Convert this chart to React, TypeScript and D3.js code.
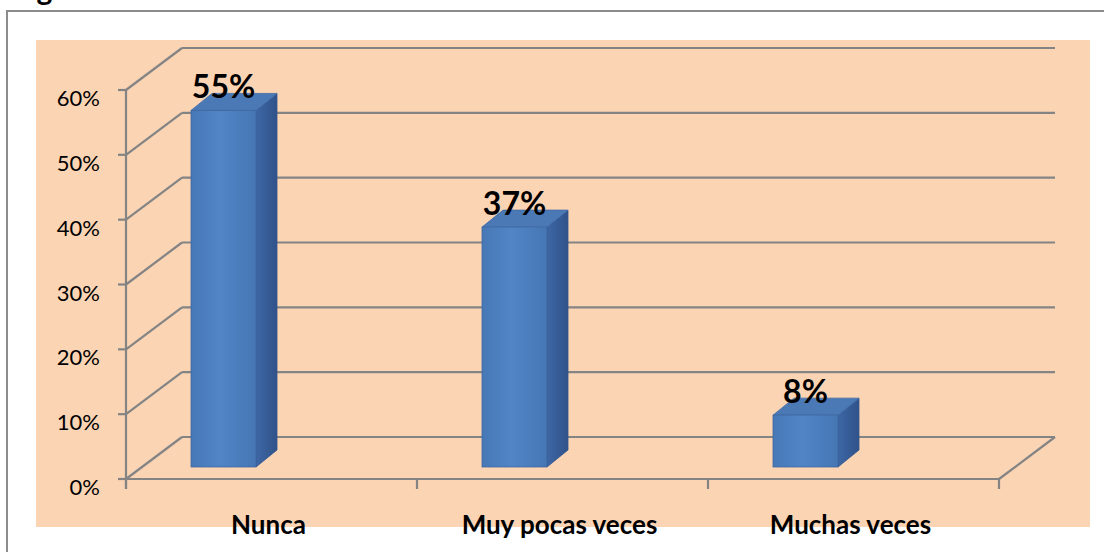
import React from "react";
import * as d3 from "d3";

// chart data
const categories = ["Nunca", "Muy pocas veces", "Muchas veces"];
const values = [0.55, 0.37, 0.08];
const valueLabels = ["55%", "37%", "8%"];
const yTicks = [0, 0.1, 0.2, 0.3, 0.4, 0.5, 0.6];
const yTickLabels = ["0%", "10%", "20%", "30%", "40%", "50%", "60%"];

const W = 1104;
const H = 552;
// oblique depth of the walls
const DX = 56;
const DY = 42;
// bar placement inside its category (front plane shift + own depth)
const BAR_FRONT_DY = 12;
const BAR_DX = 21;
const BAR_DY = 17;
const BAR_FRAC = 0.2234;

const font = "Lato, 'Open Sans', sans-serif";
const gridColor = "#848484";

const App = () => {
  const x = d3.scaleBand<string>().domain(categories).range([126, 999]).padding(0);
  const y = d3.scaleLinear().domain([0, 0.6]).range([479, 90]);
  const step = x.step();
  const x0 = x.range()[0];
  const x1 = x.range()[1];
  const y0 = y(0);

  return (
    <svg
      width={W}
      height={H}
      style={{ position: "absolute", left: 0, top: 0, background: "#fff" }}
    >
      <defs>
        <linearGradient id="front" x1="0" x2="1" y1="0" y2="0">
          <stop offset="0" stopColor="#4878B6" />
          <stop offset="0.45" stopColor="#5085C6" />
          <stop offset="1" stopColor="#4676B4" />
        </linearGradient>
        <linearGradient id="side" x1="0" x2="1" y1="0" y2="0">
          <stop offset="0" stopColor="#3D67A4" />
          <stop offset="1" stopColor="#30528A" />
        </linearGradient>
      </defs>

      {/* caption cut off by the top edge, only the descender shows */}
      <text x={12} y={0} fontFamily={font} fontWeight="bold" fontSize={30} fill="#000">
        Figura
      </text>

      {/* outer frame */}
      <rect x={7} y={11} width={1120} height={570} fill="none" stroke="#8c8c8c" strokeWidth={2} />

      {/* plot background */}
      <rect x={36} y={40} width={1054} height={487} fill="#FBD4B4" />

      {/* back wall gridlines */}
      {yTicks.map((t) => (
        <line
          key={"g" + t}
          x1={x0 + DX}
          x2={x1 + DX}
          y1={y(t) - DY}
          y2={y(t) - DY}
          stroke={gridColor}
          strokeWidth={2.2}
        />
      ))}

      {/* side wall diagonals */}
      {yTicks.map((t) => (
        <line
          key={"d" + t}
          x1={x0}
          x2={x0 + DX}
          y1={y(t)}
          y2={y(t) - DY}
          stroke={gridColor}
          strokeWidth={2.2}
        />
      ))}

      {/* floor */}
      <line x1={x0} x2={x1} y1={y0} y2={y0} stroke={gridColor} strokeWidth={2.2} />
      <line x1={x1} x2={x1 + DX} y1={y0} y2={y0 - DY} stroke={gridColor} strokeWidth={2.2} />

      {/* value axis */}
      <line x1={x0} x2={x0} y1={y(0.6)} y2={y0 + 10} stroke={gridColor} strokeWidth={2.2} />
      {yTicks.map((t) => (
        <line key={"t" + t} x1={x0 - 8} x2={x0} y1={y(t)} y2={y(t)} stroke={gridColor} strokeWidth={2.2} />
      ))}
      {yTicks.map((t, i) => (
        <text
          key={"l" + t}
          x={100}
          y={y(t) + 16}
          textAnchor="end"
          fontFamily={font}
          fontSize={22}
          fill="#000"
        >
          {yTickLabels[i]}
        </text>
      ))}

      {/* category ticks */}
      {categories.concat(["end"]).map((c, i) => (
        <line
          key={"ct" + i}
          x1={x0 + i * step}
          x2={x0 + i * step}
          y1={y0}
          y2={y0 + 10}
          stroke={gridColor}
          strokeWidth={2.2}
        />
      ))}

      {/* bars */}
      {categories.map((c, i) => {
        const bx = (x(c) as number) + BAR_FRAC * step;
        const bw = BAR_FRAC * step;
        const top = y(values[i]) - BAR_FRONT_DY;
        const bot = y0 - BAR_FRONT_DY;
        const side = `M${bx + bw},${top} L${bx + bw + BAR_DX},${top - BAR_DY} L${bx + bw + BAR_DX},${bot - BAR_DY} L${bx + bw},${bot} Z`;
        const lid = `M${bx},${top} L${bx + BAR_DX},${top - BAR_DY} L${bx + bw + BAR_DX},${top - BAR_DY} L${bx + bw},${top} Z`;
        return (
          <g key={c}>
            <path d={side} fill="url(#side)" stroke="#34588F" strokeWidth={0.8} />
            <path d={lid} fill="#4B79B6" stroke="#3F6AA6" strokeWidth={0.8} />
            <rect x={bx} y={top} width={bw} height={bot - top} fill="url(#front)" stroke="#3E67A1" strokeWidth={0.8} />
            <text
              x={bx + bw / 2}
              y={top - 12}
              textAnchor="middle"
              fontFamily={font}
              fontWeight="bold"
              fontSize={32}
              fill="#000"
            >
              {valueLabels[i]}
            </text>
          </g>
        );
      })}

      {/* category labels */}
      {categories.map((c) => (
        <text
          key={"c" + c}
          x={(x(c) as number) + step / 2 - 3}
          y={534}
          textAnchor="middle"
          fontFamily={font}
          fontWeight="bold"
          fontSize={26}
          fill="#000"
        >
          {c}
        </text>
      ))}
    </svg>
  );
};

export default App;
